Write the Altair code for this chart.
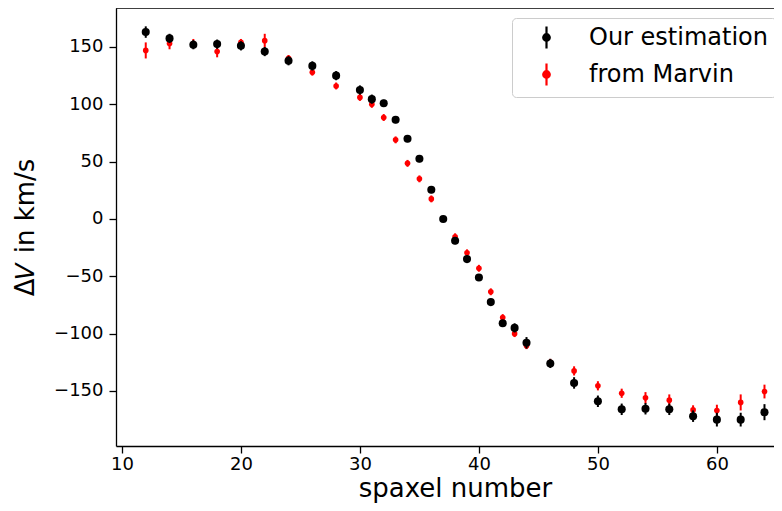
import altair as alt
import pandas as pd

spaxel = [12, 14, 16, 18, 20, 22, 24, 26, 28, 30, 31, 32, 33, 34, 35, 36, 37, 38, 39, 40,
          41, 42, 43, 44, 46, 48, 50, 52, 54, 56, 58, 60, 62, 64]
ours = [163, 157.5, 152, 152.5, 151, 146, 138, 133.5, 125, 112.5, 104.5, 101, 86.5, 70, 52.5,
        25.5, 0, -19, -35, -51, -72.5, -91, -95, -108, -126, -143, -159, -166, -165.5, -166,
        -172, -175, -175, -168.5]
ours_err = [5, 4, 4, 4, 4, 4, 4, 4, 4, 4, 4, 3, 3, 3, 3, 3, 2, 3, 3, 3, 3, 3, 4, 5, 4, 5, 5,
            5, 5, 5, 5, 6, 6, 7]
marvin = [147, 153, 153, 146, 154, 155.5, 140, 128, 116, 106, 100, 88.5, 69, 48.5, 35, 17.5,
          0, -15.5, -29.5, -43, -63.5, -86, -100, -110.5, -125, -132.5, -145.5, -152, -156,
          -158, -166.5, -167, -160, -150.5]
marvin_err = [7, 5, 4, 5, 3, 6, 3, 3, 3, 3, 3, 3, 3, 3, 3, 3, 2, 3, 3, 3, 3, 3, 3, 3, 3, 4, 4,
              4, 5, 5, 4, 5, 7, 6]

labels = ["Our estimation", "from Marvin"]
colors = ["black", "red"]
x_ticks = [10, 20, 30, 40, 50, 60]
y_ticks = [-150, -100, -50, 0, 50, 100, 150]
x_domain = [9.5, 64.8]
y_domain = [-198, 184]

rows = []
for name, vals, errs in [(labels[1], marvin, marvin_err), (labels[0], ours, ours_err)]:
    for s, v, e in zip(spaxel, vals, errs):
        rows.append({"spaxel": s, "dv": v, "lo": v - e, "hi": v + e, "series": name})
df = pd.DataFrame(rows)

xs = alt.Scale(domain=x_domain, nice=False, zero=False)
ys = alt.Scale(domain=y_domain, nice=False, zero=False)
col = alt.Scale(domain=labels, range=colors)

legend = alt.Legend(
    title=None, orient="none", legendX=396, legendY=10,
    fillColor="white", strokeColor="#cccccc", cornerRadius=4, padding=7,
    labelFont="DejaVu Sans", labelFontSize=24, labelColor="black", labelLimit=400,
    symbolType="M0,-1V1M-0.3,0a0.3,0.3 0 1,0 0.6,0a0.3,0.3 0 1,0 -0.6,0",
    symbolSize=480, symbolStrokeWidth=2.2, rowPadding=6, labelOffset=30,
    symbolOffset=15,
)

base = alt.Chart(df)

x_enc = alt.X("spaxel:Q", scale=xs, title="spaxel number",
              axis=alt.Axis(values=x_ticks, titleX=339))
y_enc = alt.Y("dv:Q", scale=ys, title="Δ𝑉 in km/s",
              axis=alt.Axis(values=y_ticks,
                            labelExpr="replace(datum.label, '-', '−')"))

layers = []
for name in [labels[1], labels[0]]:
    sub = base.transform_filter(alt.datum.series == name)
    size = 32 if name == labels[1] else 65
    rule = sub.mark_rule(strokeWidth=2).encode(
        x=x_enc, y=alt.Y("lo:Q", scale=ys), y2="hi:Q",
        stroke=alt.Stroke("series:N", scale=col, legend=legend),
    )
    pt = sub.mark_point(filled=True, opacity=1, size=size).encode(
        x=x_enc, y=y_enc,
        fill=alt.Fill("series:N", scale=col, legend=legend),
    )
    layers += [rule, pt]

# top spine of the frame, along the upper end of the y domain
spine = alt.Chart(pd.DataFrame({"x0": [x_domain[0]], "x1": [x_domain[1]], "yt": [y_domain[1]]})).mark_rule(
    color="black", strokeWidth=1.3
).encode(
    x=alt.X("x0:Q", scale=xs), x2="x1:Q", y=alt.Y("yt:Q", scale=ys),
)
layers.append(spine)

chart = alt.layer(*layers).properties(
    width=658, height=438,
    autosize=alt.AutoSizeParams(type="none"),
    padding={"left": 108, "top": 0, "right": 0, "bottom": 57},
).configure_view(stroke=None).configure_axis(
    grid=False, domainColor="black", domainWidth=1.3, tickColor="black", tickSize=7,
    tickWidth=1.3,
    labelFont="DejaVu Sans", labelFontSize=18, labelColor="black",
    titleFont="DejaVu Sans", titleFontSize=26, titleFontWeight="normal", titleColor="black",
).configure_axisX(titlePadding=2, labelPadding=2).configure_axisY(titlePadding=15, labelPadding=6)

chart.save("out.html", embed_options={"renderer": "svg", "actions": False})
